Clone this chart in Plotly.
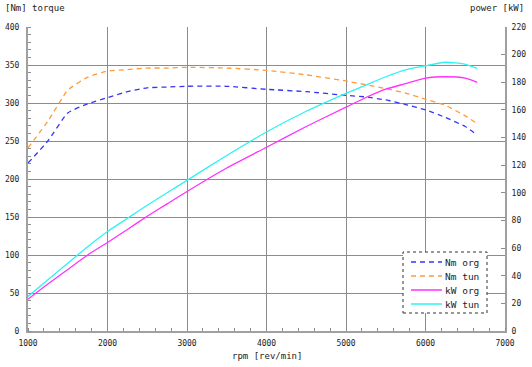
import plotly.graph_objects as go

rpm = [1000, 1250, 1500, 1750, 2000, 2250, 2500, 2750, 3000, 3500, 4000,
       4500, 5000, 5250, 5500, 5750, 6000, 6250, 6500, 6650]
nm_org = [221, 250, 287, 299, 307, 315, 320, 321, 322, 322, 318,
          315, 310, 308, 304, 298, 291, 281, 269, 258]
nm_tun = [241, 276, 317, 334, 342, 344, 346, 346, 347, 346, 343,
          337, 329, 324, 319, 313, 305, 297, 283, 273]
kw_org = [23, 34, 44.5, 55, 64, 73.5, 83, 92, 101, 118, 133,
          148, 162, 169, 175, 179, 183, 184, 183, 180]
kw_tun = [25, 37, 49, 61, 72, 81.5, 91, 100, 109, 127, 144,
          159, 172, 178, 184, 189, 192, 194.5, 193, 190]

series_names = ["Nm org", "Nm tun", "kW org", "kW tun"]

x_ticks = [1000, 2000, 3000, 4000, 5000, 6000, 7000]
y_ticks = [0, 50, 100, 150, 200, 250, 300, 350, 400]
y2_ticks = [0, 20, 40, 60, 80, 100, 120, 140, 160, 180, 200, 220]

FONT = "DejaVu Sans Mono"
GRID = "#8c8c8c"
AX = "#a0a0a0"
COLORS = ["#3535f5", "#ff9a3a", "#ff30ff", "#30f2f2"]
DASHES = ["5px,4px", "5px,4px", "solid", "solid"]

W, H = 532, 367
ML, MR, MT, MB = 28, 27, 27, 36
PW, PH = W - ML - MR, H - MT - MB


def px(x):
    return (x - ML) / PW


def py(y):
    return (H - MB - y) / PH


fig = go.Figure()
fig.add_trace(go.Scatter(x=rpm, y=nm_org, name=series_names[0], mode="lines",
                         line=dict(color=COLORS[0], width=1.3, dash=DASHES[0],
                                   shape="spline", smoothing=0.4)))
fig.add_trace(go.Scatter(x=rpm, y=nm_tun, name=series_names[1], mode="lines",
                         line=dict(color=COLORS[1], width=1.3, dash=DASHES[1],
                                   shape="spline", smoothing=0.4)))
fig.add_trace(go.Scatter(x=rpm, y=kw_org, name=series_names[2], mode="lines", yaxis="y2",
                         line=dict(color=COLORS[2], width=1.3, shape="spline", smoothing=0.6)))
fig.add_trace(go.Scatter(x=rpm, y=kw_tun, name=series_names[3], mode="lines", yaxis="y2",
                         line=dict(color=COLORS[3], width=1.3, shape="spline", smoothing=0.6)))

fig.update_layout(
    width=W, height=H, autosize=False,
    margin=dict(l=ML, r=MR, t=MT, b=MB, pad=0),
    paper_bgcolor="white", plot_bgcolor="white",
    font=dict(family=FONT, size=8, color="#222"),
    showlegend=False,
    xaxis=dict(range=[1000, 7000], tickvals=x_ticks, ticktext=[str(v) for v in x_ticks],
               showgrid=True, gridcolor=GRID, gridwidth=1.2, automargin=False,
               showline=True, linecolor=AX, linewidth=2, zeroline=False,
               ticks="", ticklabelstandoff=3,
               minor=dict(dtick=200, ticks="inside", ticklen=3, tickcolor=GRID, showgrid=False),
               tickfont=dict(family=FONT, size=8, color="#222")),
    yaxis=dict(range=[0, 400], tickvals=y_ticks, ticktext=[str(v) for v in y_ticks],
               showgrid=True, gridcolor=GRID, gridwidth=1.2, automargin=False,
               showline=True, linecolor=AX, linewidth=2, zeroline=False,
               ticks="", ticklabelstandoff=5,
               minor=dict(dtick=10, ticks="inside", ticklen=3, tickcolor=GRID, showgrid=False),
               tickfont=dict(family=FONT, size=8, color="#222")),
    yaxis2=dict(range=[0, 220], tickvals=y2_ticks, ticktext=[str(v) for v in y2_ticks],
                overlaying="y", side="right", showgrid=False, automargin=False,
                showline=True, linecolor=AX, linewidth=2, zeroline=False,
                ticks="inside", ticklen=4, tickcolor=GRID, ticklabelstandoff=3,
                tickfont=dict(family=FONT, size=8, color="#222")),
)

# legend box (drawn manually to match the compact layout)
fig.add_shape(type="rect", xref="paper", yref="paper",
              x0=px(403), x1=px(487), y0=py(313), y1=py(252),
              line=dict(color="#333", width=1, dash="dot"), fillcolor="white",
              layer="above")
legend_rows = [262, 276, 290, 304]
for i, name in enumerate(series_names):
    yy = py(legend_rows[i])
    fig.add_shape(type="line", xref="paper", yref="paper",
                  x0=px(411), x1=px(442), y0=yy, y1=yy,
                  line=dict(color=COLORS[i], width=1.5, dash=DASHES[i]), layer="above")
    fig.add_annotation(text=name, xref="paper", yref="paper",
                       x=px(481), y=yy, xanchor="right", yanchor="middle", showarrow=False,
                       font=dict(family=FONT, size=9.5, color="#222"))

fig.add_annotation(text="[Nm] torque", xref="paper", yref="paper",
                   x=px(3), y=py(8), xanchor="left", yanchor="middle", showarrow=False,
                   font=dict(family=FONT, size=9, color="#222"))
fig.add_annotation(text="power [kW]", xref="paper", yref="paper",
                   x=px(526), y=py(8), xanchor="right", yanchor="middle", showarrow=False,
                   font=dict(family=FONT, size=9, color="#222"))
fig.add_annotation(text="rpm [rev/min]", xref="paper", yref="paper",
                   x=0.5, y=py(356), xanchor="center", yanchor="middle", showarrow=False,
                   font=dict(family=FONT, size=9, color="#222"))

fig.write_html("out.html", config={"displayModeBar": False},
               post_script="document.body.style.margin='0';document.body.style.overflow='hidden';")
